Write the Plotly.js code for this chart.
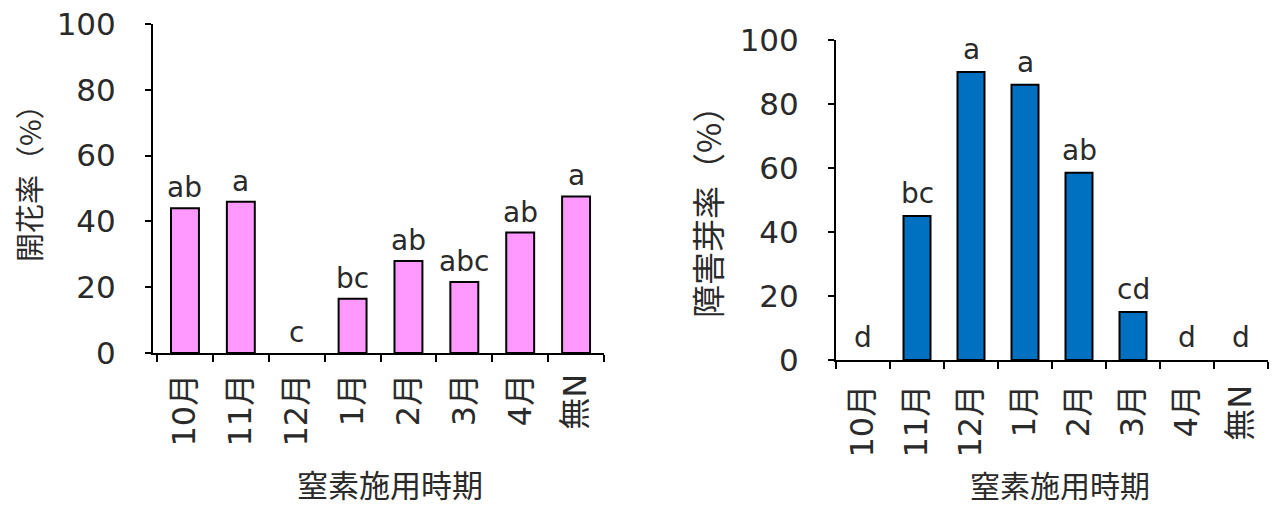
<!DOCTYPE html>
<html>
<head>
<meta charset="utf-8">
<script src="https://cdn.plot.ly/plotly-3.0.1.min.js"></script>
<style>html,body{margin:0;padding:0;background:#fff;}#chart{width:1275px;height:506px;}</style>
</head>
<body>
<div id="chart"></div>
<script>
const categories = ["10月", "11月", "12月", "1月", "2月", "3月", "4月", "無N"];
const floweringRate = [44, 46, 0, 16.5, 28, 21.6, 36.6, 47.6];
const floweringLetters = ["ab", "a", "c", "bc", "ab", "abc", "ab", "a"];
const damagedBudRate = [0, 45, 90, 86, 58.5, 15, 0, 0];
const damagedLetters = ["d", "bc", "a", "a", "ab", "cd", "d", "d"];
const leftYTitle = "開花率（%）";
const rightYTitle = "障害芽率（%）";
const xTitle = "窒素施用時期";
const yTicks = [0, 20, 40, 60, 80, 100];

const FONT = "DejaVu Sans, Noto Sans CJK JP, sans-serif";
const JFONT = "Noto Sans CJK JP, DejaVu Sans, sans-serif";
const TXT = "#2a2a2a";

function edgeWidths(vals) { return vals.map(v => v > 0 ? 2 : 0); }

const traces = [
  {type: "bar", x: categories, y: floweringRate, xaxis: "x", yaxis: "y", width: 0.5,
   marker: {color: "#ff99ff", line: {color: "#000", width: edgeWidths(floweringRate)}}, hoverinfo: "none"},
  {type: "bar", x: categories, y: damagedBudRate, xaxis: "x2", yaxis: "y2", width: 0.5,
   marker: {color: "#0070c0", line: {color: "#000", width: edgeWidths(damagedBudRate)}}, hoverinfo: "none"}
];

function xAxis(domain, range, anchor, standoff) {
  return {domain: domain, anchor: anchor, type: "category", range: range,
    showline: true, linecolor: "#000", linewidth: 2, showgrid: false, zeroline: false,
    ticks: "outside", tickson: "boundaries", ticklen: 7, tickwidth: 2, tickcolor: "#000",
    tickangle: -90, tickfont: {family: FONT, size: 32, color: TXT}, ticklabelstandoff: standoff};
}
function yAxis(domain, anchor) {
  return {domain: domain, anchor: anchor, range: [0, 100], tickvals: yTicks,
    showline: true, linecolor: "#000", linewidth: 2, showgrid: false, zeroline: false,
    ticks: "outside", ticklen: 6, tickwidth: 2, tickcolor: "#000",
    tickfont: {family: FONT, size: 31, color: TXT}, ticklabelstandoff: 23};
}

const annotations = [];
categories.forEach((c, i) => {
  annotations.push({xref: "x", yref: "y", x: c, y: floweringRate[i], text: floweringLetters[i],
    showarrow: false, yanchor: "bottom", yshift: 2, font: {family: FONT, size: 28, color: TXT}});
  annotations.push({xref: "x2", yref: "y2", x: c, y: damagedBudRate[i], text: damagedLetters[i],
    showarrow: false, yanchor: "bottom", yshift: 4, font: {family: FONT, size: 28, color: TXT}});
});
function title(x, y, text, angle, size) {
  return {xref: "paper", yref: "paper", x: x/1275, y: (506-y)/506, text: text, textangle: angle,
    xanchor: "center", yanchor: "middle", showarrow: false, font: {family: JFONT, size: size, color: TXT}};
}
annotations.push(title(28, 176, leftYTitle, -90, 29));
annotations.push(title(707, 204, rightYTitle, -90, 33));
annotations.push(title(390, 483, xTitle, 0, 31));
annotations.push(title(1060, 484, xTitle, 0, 30));

const layout = {
  width: 1275, height: 506, margin: {l: 0, r: 0, t: 0, b: 0},
  paper_bgcolor: "#fff", plot_bgcolor: "rgba(0,0,0,0)", showlegend: false,
  xaxis: xAxis([153/1275, 604/1275], [-0.572, 7.5], "y", 6),
  yaxis: yAxis([(506-353)/506, (506-24)/506], "x"),
  xaxis2: xAxis([836/1275, 1268/1275], [-0.5, 7.5], "y2", 10),
  yaxis2: yAxis([(506-360)/506, (506-40)/506], "x2"),
  annotations: annotations
};

Plotly.newPlot("chart", traces, layout, {staticPlot: true, displayModeBar: false});
</script>
</body>
</html>
